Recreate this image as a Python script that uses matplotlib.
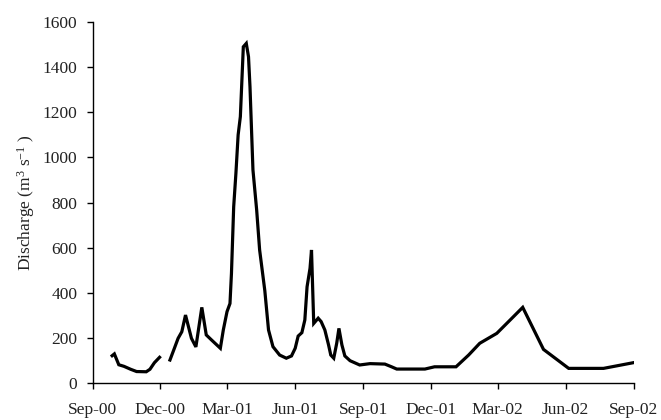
import matplotlib
matplotlib.use("Agg")
import matplotlib.pyplot as plt
import numpy as np
import pandas as pd

dates = [
    "2000-09-27", "2000-09-30", "2000-10-06", "2000-10-13", "2000-10-22", "2000-10-30",
    "2000-11-12", "2000-11-17", "2000-11-23", "2000-11-30", "2000-12-07",
    "2000-12-14", "2000-12-20", "2000-12-25", "2000-12-30", "2001-01-04", "2001-01-12",
    "2001-01-18", "2001-01-26", "2001-02-01", "2001-02-08", "2001-02-20", "2001-02-24",
    "2001-03-01", "2001-03-05", "2001-03-07", "2001-03-10", "2001-03-13", "2001-03-16",
    "2001-03-19", "2001-03-23", "2001-03-27", "2001-03-30", "2001-04-01", "2001-04-05",
    "2001-04-10", "2001-04-14", "2001-04-21", "2001-04-26", "2001-05-02", "2001-05-11",
    "2001-05-20", "2001-05-27", "2001-06-01", "2001-06-05", "2001-06-10", "2001-06-14",
    "2001-06-17", "2001-06-21", "2001-06-23", "2001-06-26", "2001-07-02", "2001-07-06",
    "2001-07-11", "2001-07-16", "2001-07-19", "2001-07-23", "2001-07-27", "2001-07-30",
    "2001-08-03", "2001-08-07", "2001-08-14", "2001-08-27", "2001-09-10", "2001-09-30",
    "2001-10-09", "2001-10-16", "2001-11-23", "2001-12-06", "2002-01-04", "2002-01-21",
    "2002-02-05", "2002-02-28", "2002-03-18", "2002-04-04", "2002-05-02", "2002-06-05",
    "2002-07-22", "2002-08-31",
]
discharge = [
    122, 130, 82, 75, 62, 52,
    51, 62, 91, 115, np.nan,
    103, 155, 199, 228, 302, 199,
    161, 336, 214, 192, 155, 236,
    317, 353, 487, 781, 929, 1099,
    1180, 1489, 1504, 1445, 1312, 944,
    767, 590, 410, 236, 162, 125,
    111, 121, 155, 209, 224, 280,
    427, 509, 590, 265, 288, 273,
    236, 170, 125, 111, 177, 243,
    170, 121, 100, 81, 87, 85,
    73, 63, 63, 73, 73, 125,
    177, 221, 280, 336, 150, 66,
    66, 91,
]
tick_dates = ["2000-09-01", "2000-12-01", "2001-03-01", "2001-06-01", "2001-09-01",
              "2001-12-01", "2002-03-01", "2002-06-01", "2002-09-01"]
tick_labels = ["Sep-00", "Dec-00", "Mar-01", "Jun-01", "Sep-01",
               "Dec-01", "Mar-02", "Jun-02", "Sep-02"]
y_ticks = [0, 200, 400, 600, 800, 1000, 1200, 1400, 1600]

plt.rcParams['font.family'] = ['Liberation Serif', 'DejaVu Serif']
plt.rcParams['mathtext.default'] = 'regular'

fig = plt.figure(figsize=(6.61, 4.20), dpi=100)
ax = fig.add_axes([0.1405, 0.0874, 0.8185, 0.8609])

x = pd.to_datetime(dates)
ax.plot(x, discharge, color='black', linewidth=2.3, solid_joinstyle='miter')

tx = pd.to_datetime(tick_dates)
ax.set_xlim(tx[0], tx[-1])
ax.set_ylim(0, 1600)
ax.set_xticks(tx)
ax.set_xticklabels(tick_labels)
ax.set_yticks(y_ticks)

for s in ['top', 'right']:
    ax.spines[s].set_visible(False)
for s in ['left', 'bottom']:
    ax.spines[s].set_linewidth(1.0)
    ax.spines[s].set_color('black')

ax.tick_params(axis='both', direction='out', length=4.6, width=1, colors='black',
               labelsize=12.5, labelcolor='#222222')
ax.tick_params(axis='x', pad=9)
ax.tick_params(axis='y', pad=6.5)

ax.set_ylabel("Discharge (m$^3$ s$^{-1}$ )", fontsize=12.5, color='#222222', labelpad=4)

fig.savefig("out.png", dpi=100)
